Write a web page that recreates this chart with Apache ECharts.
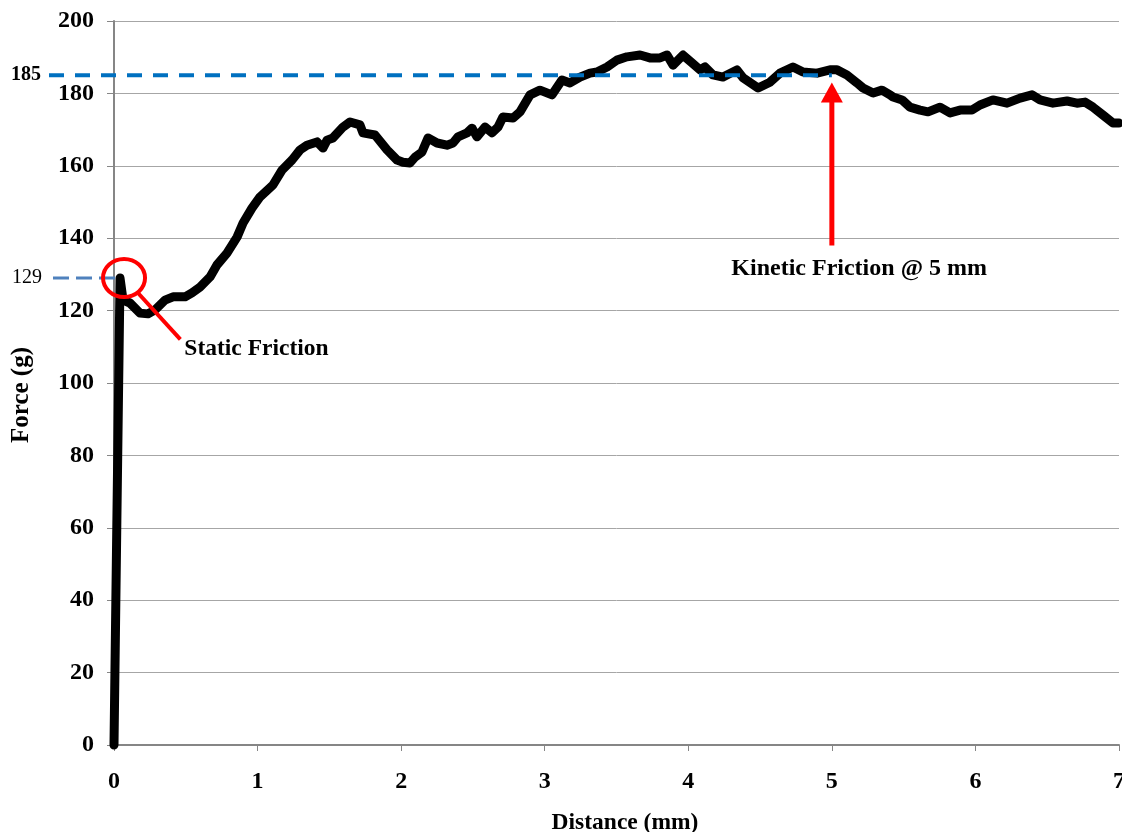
<!DOCTYPE html>
<html>
<head>
<meta charset="utf-8">
<script src="https://cdn.jsdelivr.net/npm/echarts@6/dist/echarts.min.js"></script>
<style>
  html, body { margin: 0; padding: 0; background: #ffffff; }
  #chart { width: 1122px; height: 832px; }
</style>
</head>
<body>
<div id="chart"></div>
<script>
// Friction test trace: pulling force against sled travel distance
const distance = [
  0, 0.02, 0.042, 0.063, 0.111, 0.181, 0.237, 0.286, 0.355, 0.411, 0.495, 0.543, 0.599,
  0.669, 0.717, 0.787, 0.857, 0.899, 0.961, 1.017, 1.107, 1.170, 1.240, 1.296, 1.344,
  1.414, 1.456, 1.484, 1.525, 1.595, 1.644, 1.713, 1.734, 1.818, 1.902, 1.971, 2.013,
  2.062, 2.097, 2.145, 2.187, 2.250, 2.319, 2.361, 2.396, 2.459, 2.494, 2.528, 2.584,
  2.633, 2.675, 2.709, 2.779, 2.828, 2.898, 2.967, 3.051, 3.120, 3.176, 3.246, 3.315,
  3.364, 3.434, 3.503, 3.573, 3.664, 3.733, 3.803, 3.852, 3.894, 3.963, 4.026, 4.082,
  4.116, 4.172, 4.242, 4.339, 4.381, 4.486, 4.569, 4.639, 4.729, 4.799, 4.897, 4.987,
  5.036, 5.105, 5.175, 5.217, 5.287, 5.349, 5.405, 5.426, 5.489, 5.544, 5.614, 5.670,
  5.753, 5.823, 5.893, 5.976, 6.032, 6.122, 6.220, 6.311, 6.394, 6.450, 6.540, 6.638,
  6.707, 6.763, 6.819, 6.889, 6.958, 7.0
];
const force = [
  0, 62, 129, 122.9, 122.1, 119.3, 119.1, 120.2, 122.9, 123.8, 123.8, 124.9, 126.5,
  129.3, 132.6, 135.9, 140.3, 144.2, 148.3, 151.4, 154.7, 158.8, 161.6, 164.4, 165.7,
  166.6, 164.9, 167.1, 167.7, 170.7, 172.1, 171.3, 169.1, 168.5, 164.4, 161.6, 161.0,
  160.8, 162.4, 163.8, 167.7, 166.3, 165.7, 166.3, 168.0, 169.1, 170.4, 168.0, 170.7,
  169.1, 170.7, 173.5, 173.2, 174.9, 179.6, 180.9, 179.6, 183.7, 182.9, 184.5, 185.6,
  185.9, 187.3, 189.2, 190.1, 190.6, 189.8, 189.8, 190.6, 187.8, 190.6, 188.4, 186.5,
  187.3, 185.1, 184.5, 186.5, 184.3, 181.5, 183.1, 185.6, 187.3, 185.9, 185.6, 186.5,
  186.5, 185.1, 182.9, 181.5, 180.1, 180.9, 179.6, 179.0, 178.2, 176.2, 175.4, 174.9,
  176.2, 174.6, 175.4, 175.4, 176.8, 178.2, 177.3, 178.7, 179.6, 178.2, 177.3, 177.9,
  177.3, 177.6, 176.2, 174.0, 171.8, 171.8
];

// Reference levels marked on the chart
const staticLevel = 129;
const staticAt = 0.042;
const kineticLevel = 185;
const kineticAt = 5;

// Annotation anchors (data coordinates)
const arrowBottom = 138;
const arrowTip = 183;
const staticLabelAt = [0.49, 109.3];
const kineticLabelAt = [5.19, 131.5];

const FONT = "'Liberation Serif', 'Times New Roman', serif";
const GRID_COLOR = '#a6a6a6';
const AXIS_COLOR = '#868686';

const chart = echarts.init(document.getElementById('chart'), null, { renderer: 'canvas' });

const points = distance.map((d, i) => [d, force[i]]);

chart.setOption({
  animation: false,
  backgroundColor: '#ffffff',
  grid: { left: 114, right: 3, top: 21, bottom: 87, containLabel: false, outerBoundsMode: 'none' },
  xAxis: {
    type: 'value', min: 0, max: 7, interval: 1,
    axisLine: { show: true, onZero: false, lineStyle: { color: AXIS_COLOR, width: 2 } },
    axisTick: { show: true, length: 6, lineStyle: { color: AXIS_COLOR, width: 1 } },
    splitLine: { show: false },
    axisLabel: { color: '#000', fontFamily: FONT, fontWeight: 'bold', fontSize: 24, margin: 25, hideOverlap: false }
  },
  yAxis: {
    type: 'value', min: 0, max: 200, interval: 20,
    axisLine: { show: true, lineStyle: { color: AXIS_COLOR, width: 2 } },
    axisTick: { show: true, length: 7, lineStyle: { color: AXIS_COLOR, width: 1 } },
    splitLine: { show: true, lineStyle: { color: GRID_COLOR, width: 1 } },
    axisLabel: { color: '#000', fontFamily: FONT, fontWeight: 'bold', fontSize: 24, margin: 20 }
  },
  series: [{
    type: 'line',
    data: points,
    showSymbol: false,
    symbol: 'none',
    clip: false,
    lineStyle: { color: '#000', width: 9, join: 'round', cap: 'round' },
    z: 3
  }]
});

// Annotations drawn in pixel space from data coordinates
const px = (x, y) => chart.convertToPixel({ gridIndex: 0 }, [x, y]);

const kin = px(kineticAt, kineticLevel);
const sta = px(staticAt, staticLevel);
const arrB = px(kineticAt, arrowBottom);
const arrT = px(kineticAt, arrowTip);
const sLab = px(staticLabelAt[0], staticLabelAt[1]);
const kLab = px(kineticLabelAt[0], kineticLabelAt[1]);

const headH = 20, headW = 11;

chart.setOption({
  graphic: [
    // kinetic friction level
    {
      type: 'line', z: 10,
      shape: { x1: 49, y1: kin[1], x2: kin[0], y2: kin[1] },
      style: { stroke: '#0070c0', lineWidth: 4, lineDash: [15, 11] }
    },
    {
      type: 'text', z: 10, x: 41, y: kin[1],
      style: { text: String(kineticLevel), font: 'bold 20px ' + FONT, fill: '#000', align: 'right', verticalAlign: 'middle' }
    },
    // static friction level
    {
      type: 'line', z: 10,
      shape: { x1: 53, y1: sta[1], x2: sta[0], y2: sta[1] },
      style: { stroke: '#4f81bd', lineWidth: 3, lineDash: [16, 7] }
    },
    {
      type: 'text', z: 10, x: 42, y: sta[1],
      style: { text: String(staticLevel), font: '20px ' + FONT, fill: '#000', align: 'right', verticalAlign: 'middle' }
    },
    // circle around static peak and leader line
    {
      type: 'ellipse', z: 11,
      shape: { cx: sta[0] + 4, cy: sta[1], rx: 21, ry: 19 },
      style: { stroke: '#ff0000', lineWidth: 4, fill: 'none' }
    },
    {
      type: 'line', z: 11,
      shape: { x1: sta[0] + 18, y1: sta[1] + 15, x2: sLab[0] - 4, y2: sLab[1] - 10 },
      style: { stroke: '#ff0000', lineWidth: 4 }
    },
    {
      type: 'text', z: 11, x: sLab[0], y: sLab[1],
      style: { text: 'Static Friction', font: 'bold 23.5px ' + FONT, fill: '#000', align: 'left', verticalAlign: 'middle' }
    },
    // kinetic arrow
    {
      type: 'line', z: 11,
      shape: { x1: arrB[0], y1: arrB[1], x2: arrT[0], y2: arrT[1] + headH - 2 },
      style: { stroke: '#ff0000', lineWidth: 5 }
    },
    {
      type: 'polygon', z: 11,
      shape: { points: [[arrT[0], arrT[1]], [arrT[0] - headW, arrT[1] + headH], [arrT[0] + headW, arrT[1] + headH]] },
      style: { fill: '#ff0000' }
    },
    {
      type: 'text', z: 11, x: kLab[0], y: kLab[1],
      style: { text: 'Kinetic Friction @ 5 mm', font: 'bold 24px ' + FONT, fill: '#000', align: 'center', verticalAlign: 'middle' }
    },
    // axis titles
    {
      type: 'text', z: 10, x: 22, y: 395, rotation: Math.PI / 2,
      style: { text: 'Force (g)', font: 'bold 25px ' + FONT, fill: '#000', align: 'center', verticalAlign: 'middle' }
    },
    {
      type: 'text', z: 10, x: 625, y: 823,
      style: { text: 'Distance (mm)', font: 'bold 23.5px ' + FONT, fill: '#000', align: 'center', verticalAlign: 'middle' }
    }
  ]
});
</script>
</body>
</html>
